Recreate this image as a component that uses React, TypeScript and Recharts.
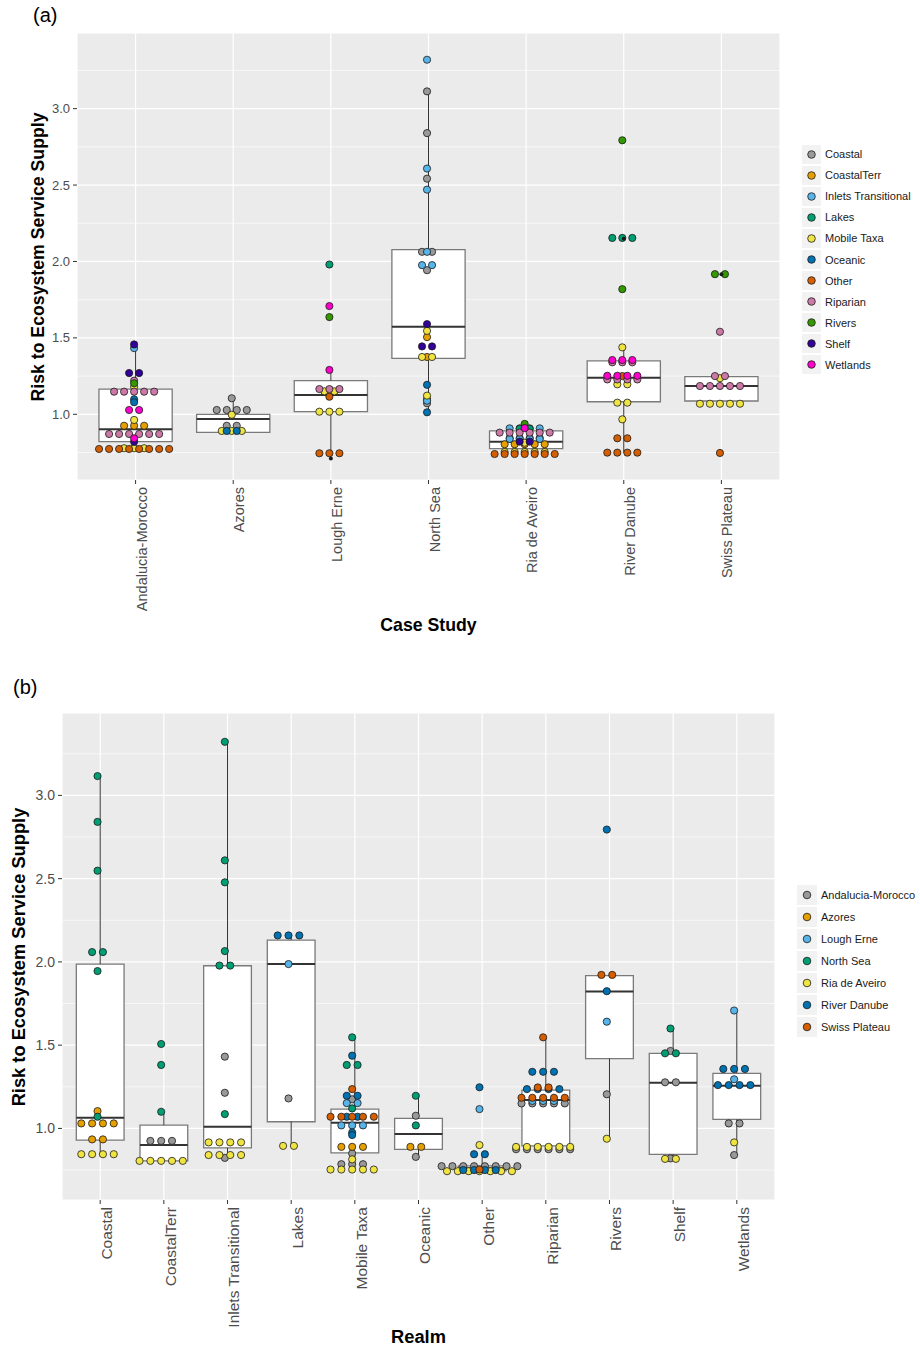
import React from "react";
import {
  CartesianGrid,
  ComposedChart,
  ReferenceArea,
  ReferenceLine,
  Scatter,
  XAxis,
  YAxis,
} from "recharts";

// [group, value, how many dots sit side by side at that value]
type Dot = [string, number, number];

const caseStudies = [
  "Andalucia-Morocco",
  "Azores",
  "Lough Erne",
  "North Sea",
  "Ria de Aveiro",
  "River Danube",
  "Swiss Plateau",
];
const realms = [
  "Coastal",
  "CoastalTerr",
  "Inlets Transitional",
  "Lakes",
  "Mobile Taxa",
  "Oceanic",
  "Other",
  "Riparian",
  "Rivers",
  "Shelf",
  "Wetlands",
];
const realmColors = [
  "#999999",
  "#E69F00",
  "#56B4E9",
  "#009E73",
  "#F0E442",
  "#0072B2",
  "#D55E00",
  "#CC79A7",
  "#339900",
  "#330099",
  "#FF00CC",
];
const caseColors = [
  "#999999",
  "#E69F00",
  "#56B4E9",
  "#009E73",
  "#F0E442",
  "#0072B2",
  "#D55E00",
];

const yTicks = [1, 1.5, 2, 2.5, 3];
const yMinorTicks = [0.75, 1.25, 1.75, 2.25, 2.75, 3.25];

// ---------- panel (a): by case study, coloured by realm ----------
const andaluciaDots: Dot[] = [
  ["Shelf", 1.457, 1],
  ["Inlets Transitional", 1.433, 1],
  ["Shelf", 1.27, 2],
  ["Riparian", 1.22, 1],
  ["Rivers", 1.203, 1],
  ["Mobile Taxa", 1.18, 1],
  ["Riparian", 1.148, 5],
  ["Oceanic", 1.098, 1],
  ["Oceanic", 1.079, 1],
  ["Wetlands", 1.028, 2],
  ["Mobile Taxa", 0.963, 1],
  ["CoastalTerr", 0.925, 3],
  ["Riparian", 0.871, 6],
  ["Wetlands", 0.843, 1],
  ["Shelf", 0.82, 1],
  ["Mobile Taxa", 0.778, 3],
  ["Other", 0.773, 8],
];
const azoresDots: Dot[] = [
  ["Coastal", 1.105, 1],
  ["Coastal", 1.028, 4],
  ["Mobile Taxa", 0.997, 1],
  ["Coastal", 0.925, 2],
  ["Mobile Taxa", 0.891, 3],
  ["Oceanic", 0.891, 2],
];
const loughErneDots: Dot[] = [
  ["Lakes", 1.98, 1],
  ["Wetlands", 1.708, 1],
  ["Rivers", 1.636, 1],
  ["Wetlands", 1.29, 1],
  ["Mobile Taxa", 1.15, 2],
  ["Riparian", 1.165, 3],
  ["Other", 1.115, 1],
  ["Mobile Taxa", 1.017, 3],
  ["Other", 0.745, 3],
];
const northSeaDots: Dot[] = [
  ["Inlets Transitional", 3.32, 1],
  ["Coastal", 3.113, 1],
  ["Coastal", 2.84, 1],
  ["Inlets Transitional", 2.608, 1],
  ["Coastal", 2.542, 1],
  ["Inlets Transitional", 2.47, 1],
  ["Coastal", 2.063, 2],
  ["Inlets Transitional", 2.063, 1],
  ["Inlets Transitional", 1.976, 2],
  ["Coastal", 1.943, 1],
  ["Shelf", 1.59, 1],
  ["Mobile Taxa", 1.546, 1],
  ["CoastalTerr", 1.505, 1],
  ["Shelf", 1.444, 2],
  ["Mobile Taxa", 1.375, 2],
  ["CoastalTerr", 1.375, 1],
  ["Oceanic", 1.193, 1],
  ["Mobile Taxa", 1.122, 1],
  ["CoastalTerr", 1.1, 1],
  ["Inlets Transitional", 1.089, 1],
  ["Coastal", 1.072, 1],
  ["Oceanic", 1.013, 1],
];
const riaDots: Dot[] = [
  ["Rivers", 0.937, 1],
  ["Wetlands", 0.91, 1],
  ["Inlets Transitional", 0.908, 4],
  ["Lakes", 0.905, 2],
  ["Riparian", 0.88, 6],
  ["Coastal", 0.845, 4],
  ["Inlets Transitional", 0.839, 4],
  ["Shelf", 0.821, 2],
  ["Mobile Taxa", 0.814, 1],
  ["CoastalTerr", 0.804, 5],
  ["Mobile Taxa", 0.753, 5],
  ["Other", 0.74, 7],
];
const danubeDots: Dot[] = [
  ["Rivers", 2.793, 1],
  ["Lakes", 2.154, 3],
  ["Rivers", 1.819, 1],
  ["Mobile Taxa", 1.438, 1],
  ["Riparian", 1.34, 3],
  ["Wetlands", 1.355, 3],
  ["Riparian", 1.228, 4],
  ["Other", 1.25, 1],
  ["Wetlands", 1.252, 4],
  ["Mobile Taxa", 1.196, 2],
  ["Mobile Taxa", 1.076, 2],
  ["Mobile Taxa", 0.967, 1],
  ["Other", 0.843, 2],
  ["Other", 0.749, 4],
];
const swissDots: Dot[] = [
  ["Rivers", 1.917, 2],
  ["Riparian", 1.54, 1],
  ["Riparian", 1.25, 2],
  ["Mobile Taxa", 1.236, 1],
  ["Riparian", 1.185, 5],
  ["Mobile Taxa", 1.069, 5],
  ["Other", 0.747, 1],
];

const boxLowA = [0.773, 0.882, 0.745, 1.013, 0.74, 0.749, 1.069];
const boxQ1A = [0.821, 0.882, 1.017, 1.366, 0.775, 1.082, 1.087];
const boxMedA = [0.902, 0.969, 1.126, 1.573, 0.821, 1.239, 1.185];
const boxQ3A = [1.165, 1.0, 1.22, 2.078, 0.891, 1.35, 1.246];
const boxHighA = [1.457, 1.105, 1.29, 3.113, 0.937, 1.438, 1.25];
const outliersA: [number, number][] = [
  [3, 0.71],
  [6, 2.148],
  [7, 1.917],
];

// ---------- panel (b): by realm, coloured by case study ----------
const coastalDots: Dot[] = [
  ["North Sea", 3.116, 1],
  ["North Sea", 2.841, 1],
  ["North Sea", 2.548, 1],
  ["North Sea", 2.059, 2],
  ["North Sea", 1.945, 1],
  ["Azores", 1.104, 1],
  ["North Sea", 1.07, 1],
  ["Azores", 1.03, 4],
  ["Azores", 0.934, 2],
  ["Ria de Aveiro", 0.845, 4],
];
const coastalTerrDots: Dot[] = [
  ["North Sea", 1.507, 1],
  ["North Sea", 1.381, 1],
  ["North Sea", 1.1, 1],
  ["Andalucia-Morocco", 0.925, 3],
  ["Ria de Aveiro", 0.805, 5],
];
const inletsDots: Dot[] = [
  ["North Sea", 3.322, 1],
  ["North Sea", 2.61, 1],
  ["North Sea", 2.478, 1],
  ["North Sea", 2.065, 1],
  ["North Sea", 1.978, 2],
  ["Andalucia-Morocco", 1.431, 1],
  ["Andalucia-Morocco", 1.214, 1],
  ["North Sea", 1.086, 1],
  ["Ria de Aveiro", 0.916, 4],
  ["Ria de Aveiro", 0.84, 4],
  ["Andalucia-Morocco", 0.823, 1],
];
const lakesDots: Dot[] = [
  ["River Danube", 2.159, 3],
  ["Lough Erne", 1.987, 1],
  ["Andalucia-Morocco", 1.18, 1],
  ["Ria de Aveiro", 0.895, 2],
];
const mobileDots: Dot[] = [
  ["North Sea", 1.547, 1],
  ["River Danube", 1.437, 1],
  ["North Sea", 1.381, 2],
  ["Swiss Plateau", 1.236, 1],
  ["River Danube", 1.196, 2],
  ["Andalucia-Morocco", 1.175, 1],
  ["Lough Erne", 1.152, 2],
  ["North Sea", 1.12, 1],
  ["Swiss Plateau", 1.07, 5],
  ["River Danube", 1.07, 2],
  ["Lough Erne", 1.018, 3],
  ["River Danube", 0.975, 1],
  ["River Danube", 0.96, 1],
  ["Azores", 0.889, 3],
  ["Andalucia-Morocco", 0.85, 1],
  ["Ria de Aveiro", 0.814, 1],
  ["Andalucia-Morocco", 0.785, 3],
  ["Ria de Aveiro", 0.753, 5],
];
const oceanicDots: Dot[] = [
  ["North Sea", 1.196, 1],
  ["Andalucia-Morocco", 1.076, 1],
  ["North Sea", 1.018, 1],
  ["Azores", 0.889, 2],
  ["Andalucia-Morocco", 0.829, 1],
];
const otherDots: Dot[] = [
  ["River Danube", 1.247, 1],
  ["Lough Erne", 1.116, 1],
  ["Ria de Aveiro", 0.9, 1],
  ["River Danube", 0.845, 2],
  ["Andalucia-Morocco", 0.773, 8],
  ["River Danube", 0.75, 4],
  ["Swiss Plateau", 0.753, 1],
  ["Ria de Aveiro", 0.743, 7],
];
const riparianDots: Dot[] = [
  ["Swiss Plateau", 1.547, 1],
  ["River Danube", 1.34, 3],
  ["Swiss Plateau", 1.246, 2],
  ["River Danube", 1.236, 4],
  ["Swiss Plateau", 1.184, 5],
  ["Lough Erne", 1.165, 3],
  ["Andalucia-Morocco", 1.15, 5],
  ["Ria de Aveiro", 0.889, 6],
  ["Andalucia-Morocco", 0.875, 6],
];
const riversDots: Dot[] = [
  ["River Danube", 2.795, 1],
  ["Swiss Plateau", 1.922, 2],
  ["River Danube", 1.824, 1],
  ["Lough Erne", 1.641, 1],
  ["Andalucia-Morocco", 1.205, 1],
  ["Ria de Aveiro", 0.938, 1],
];
const shelfDots: Dot[] = [
  ["North Sea", 1.6, 1],
  ["Andalucia-Morocco", 1.465, 1],
  ["North Sea", 1.451, 2],
  ["Andalucia-Morocco", 1.277, 2],
  ["Ria de Aveiro", 0.817, 2],
  ["Andalucia-Morocco", 0.82, 1],
];
const wetlandsDots: Dot[] = [
  ["Lough Erne", 1.708, 1],
  ["River Danube", 1.357, 3],
  ["Lough Erne", 1.295, 1],
  ["River Danube", 1.26, 4],
  ["Andalucia-Morocco", 1.03, 2],
  ["Ria de Aveiro", 0.916, 1],
  ["Andalucia-Morocco", 0.84, 1],
];

const boxLowB = [0.83, 0.805, 0.823, 0.895, 0.753, 0.829, 0.743, 0.875, 0.938, 0.817, 0.84];
const boxQ1B = [0.93, 0.805, 0.883, 1.04, 0.853, 0.874, 0.745, 0.895, 1.419, 0.844, 1.054];
const boxMedB = [1.064, 0.901, 1.01, 1.987, 1.034, 0.966, 0.76, 1.17, 1.822, 1.274, 1.256];
const boxQ3B = [1.987, 1.02, 1.977, 2.131, 1.116, 1.06, 0.775, 1.23, 1.918, 1.451, 1.331];
const boxHighB = [3.116, 1.1, 3.322, 2.159, 1.547, 1.196, 0.845, 1.547, 1.922, 1.6, 1.708];
const outliersB: [number, number][] = [];

type Pt = { x: number; y: number };

// stack dots of one group side by side, centred on their category
function stackDots(
  byCategory: Dot[][],
  groupNames: string[],
  spacing: number,
  shift: number
): Pt[][] {
  const series: Pt[][] = groupNames.map(() => []);
  byCategory.forEach((dots, ci) => {
    dots.forEach(([group, value, count]) => {
      const gi = groupNames.indexOf(group);
      for (let k = 0; k < count; k++) {
        series[gi].push({
          x: ci + 1 + shift + (k - (count - 1) / 2) * spacing,
          y: value,
        });
      }
    });
  });
  return series;
}

const CategoryTick = (props: any) => {
  const { x, y, payload, labels, fontSize } = props;
  const label = labels[Math.round(payload.value) - 1] ?? "";
  return (
    <text
      x={x}
      y={y}
      transform={`rotate(-90 ${x} ${y})`}
      textAnchor="end"
      dy="0.76em"
      fontSize={fontSize}
      fill="#4D4D4D"
    >
      {label}
    </text>
  );
};

interface PanelProps {
  categories: string[];
  groups: string[];
  colors: string[];
  dots: Dot[][];
  low: number[];
  q1: number[];
  med: number[];
  q3: number[];
  high: number[];
  outliers: [number, number][];
  spacing: number;
  shift: number;
  height: number;
  marginTop: number;
  marginRight: number;
  yAxisWidth: number;
  xAxisHeight: number;
  xFont: number;
  yFont: number;
}

function BoxDotPanel(p: PanelProps) {
  const n = p.categories.length;
  const series = stackDots(p.dots, p.groups, p.spacing, p.shift);
  const outlierPts = p.outliers.map(([c, v]) => ({ x: c, y: v }));
  const half = 0.375;
  return (
    <ComposedChart
      width={800}
      height={p.height}
      margin={{ top: p.marginTop, right: p.marginRight, bottom: 0, left: 0 }}
    >
      <CartesianGrid fill="#EBEBEB" stroke="#FFFFFF" strokeWidth={1.2} />
      <CartesianGrid
        stroke="#FFFFFF"
        strokeWidth={0.6}
        vertical={false}
        horizontalValues={yMinorTicks}
      />
      <XAxis
        type="number"
        dataKey="x"
        domain={[0.4, n + 0.6]}
        ticks={p.categories.map((_, i) => i + 1)}
        interval={0}
        allowDataOverflow
        axisLine={false}
        tickLine={{ stroke: "#333333" }}
        tickSize={4}
        tickMargin={3}
        height={p.xAxisHeight}
        tick={(t: any) => (
          <CategoryTick {...t} labels={p.categories} fontSize={p.xFont} />
        )}
      />
      <YAxis
        type="number"
        dataKey="y"
        domain={[0.57, 3.495]}
        ticks={yTicks}
        allowDataOverflow
        axisLine={false}
        tickLine={{ stroke: "#333333" }}
        tickSize={4}
        tickMargin={3}
        width={p.yAxisWidth}
        tick={{ fill: "#4D4D4D", fontSize: p.yFont }}
        tickFormatter={(v: number) => v.toFixed(1)}
      />
      {p.categories.map((c, i) => (
        <ReferenceLine
          key={`wl-${c}`}
          segment={[
            { x: i + 1, y: p.low[i] },
            { x: i + 1, y: p.q1[i] },
          ]}
          stroke="#333333"
          strokeWidth={1}
          ifOverflow="visible"
        />
      ))}
      {p.categories.map((c, i) => (
        <ReferenceLine
          key={`wh-${c}`}
          segment={[
            { x: i + 1, y: p.q3[i] },
            { x: i + 1, y: p.high[i] },
          ]}
          stroke="#333333"
          strokeWidth={1}
          ifOverflow="visible"
        />
      ))}
      {p.categories.map((c, i) => (
        <ReferenceArea
          key={`box-${c}`}
          x1={i + 1 - half}
          x2={i + 1 + half}
          y1={p.q1[i]}
          y2={p.q3[i]}
          fill="#FFFFFF"
          fillOpacity={1}
          stroke="#7A7A7A"
          strokeWidth={1.3}
          ifOverflow="visible"
        />
      ))}
      {p.categories.map((c, i) => (
        <ReferenceLine
          key={`med-${c}`}
          segment={[
            { x: i + 1 - half, y: p.med[i] },
            { x: i + 1 + half, y: p.med[i] },
          ]}
          stroke="#333333"
          strokeWidth={2}
          ifOverflow="visible"
        />
      ))}
      {series.map((pts, gi) => (
        <Scatter
          key={p.groups[gi]}
          name={p.groups[gi]}
          data={pts}
          isAnimationActive={false}
          shape={(s: any) => (
            <circle
              cx={s.cx}
              cy={s.cy}
              r={3.6}
              fill={p.colors[gi]}
              stroke="#1A1A1A"
              strokeWidth={0.8}
            />
          )}
        />
      ))}
      <Scatter
        data={outlierPts}
        isAnimationActive={false}
        shape={(s: any) => <circle cx={s.cx} cy={s.cy} r={2} fill="#1A1A1A" />}
      />
    </ComposedChart>
  );
}

function KeyLegend({
  names,
  colors,
  left,
  top,
  step,
  box,
}: {
  names: string[];
  colors: string[];
  left: number;
  top: number;
  step: number;
  box: number;
}) {
  return (
    <div style={{ position: "absolute", left, top }}>
      {names.map((name, i) => (
        <div
          key={name}
          style={{ display: "flex", alignItems: "center", height: step }}
        >
          <svg width={box} height={box} style={{ background: "#F2F2F2" }}>
            <circle
              cx={box / 2}
              cy={box / 2}
              r={3.8}
              fill={colors[i]}
              stroke="#1A1A1A"
              strokeWidth={0.8}
            />
          </svg>
          <span
            style={{
              marginLeft: 4,
              fontSize: 11,
              color: "#1A1A1A",
              whiteSpace: "nowrap",
            }}
          >
            {name}
          </span>
        </div>
      ))}
    </div>
  );
}

const titleStyle: React.CSSProperties = {
  position: "absolute",
  fontWeight: "bold",
  color: "#000",
  whiteSpace: "nowrap",
  lineHeight: "18px",
};

export default function App() {
  return (
    <div
      style={{
        position: "absolute",
        left: 0,
        top: 0,
        width: 920,
        height: 1347,
        background: "#FFFFFF",
        overflow: "hidden",
        fontFamily: '"Liberation Sans", Arial, sans-serif',
      }}
    >
      <div style={{ position: "absolute", left: 33, top: 5, fontSize: 20, lineHeight: "20px" }}>
        (a)
      </div>
      <div style={{ position: "absolute", left: 0, top: 0 }}>
        <BoxDotPanel
          categories={caseStudies}
          groups={realms}
          colors={realmColors}
          dots={[
            andaluciaDots,
            azoresDots,
            loughErneDots,
            northSeaDots,
            riaDots,
            danubeDots,
            swissDots,
          ]}
          low={boxLowA}
          q1={boxQ1A}
          med={boxMedA}
          q3={boxQ3A}
          high={boxHighA}
          outliers={outliersA}
          spacing={0.1026}
          shift={-0.015}
          height={640}
          marginTop={33}
          marginRight={20}
          yAxisWidth={77}
          xAxisHeight={160}
          xFont={14.5}
          yFont={13}
        />
      </div>
      <div
        style={{
          ...titleStyle,
          fontSize: 17.7,
          left: 37.5,
          top: 257,
          transform: "translate(-50%, -50%) rotate(-90deg)",
        }}
      >
        Risk to Ecosystem Service Supply
      </div>
      <div
        style={{
          ...titleStyle,
          fontSize: 17.7,
          left: 428.5,
          top: 625,
          transform: "translate(-50%, -50%)",
        }}
      >
        Case Study
      </div>
      <KeyLegend names={realms} colors={realmColors} left={802} top={143.5} step={21.1} box={19} />

      <div style={{ position: "absolute", left: 13, top: 677, fontSize: 20, lineHeight: "20px" }}>
        (b)
      </div>
      <div style={{ position: "absolute", left: 0, top: 660 }}>
        <BoxDotPanel
          categories={realms}
          groups={caseStudies}
          colors={caseColors}
          dots={[
            coastalDots,
            coastalTerrDots,
            inletsDots,
            lakesDots,
            mobileDots,
            oceanicDots,
            otherDots,
            riparianDots,
            riversDots,
            shelfDots,
            wetlandsDots,
          ]}
          low={boxLowB}
          q1={boxQ1B}
          med={boxMedB}
          q3={boxQ3B}
          high={boxHighB}
          outliers={outliersB}
          spacing={0.17}
          shift={-0.042}
          height={687}
          marginTop={53}
          marginRight={25}
          yAxisWidth={62}
          xAxisHeight={147}
          xFont={15.5}
          yFont={14}
        />
      </div>
      <div
        style={{
          ...titleStyle,
          fontSize: 18.3,
          left: 19,
          top: 957,
          transform: "translate(-50%, -50%) rotate(-90deg)",
        }}
      >
        Risk to Ecosystem Service Supply
      </div>
      <div
        style={{
          ...titleStyle,
          fontSize: 18.3,
          left: 418.5,
          top: 1337,
          transform: "translate(-50%, -50%)",
        }}
      >
        Realm
      </div>
      <KeyLegend names={caseStudies} colors={caseColors} left={797} top={884} step={22} box={20} />
    </div>
  );
}
